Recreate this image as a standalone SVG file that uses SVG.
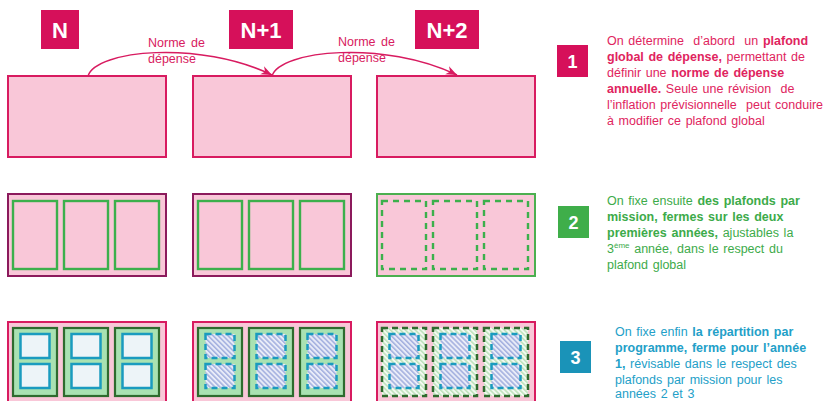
<svg xmlns="http://www.w3.org/2000/svg" width="830" height="401" viewBox="0 0 830 401">
<defs>
<style>
.tag{fill:#d6105a}
.tagt{font-family:"Liberation Sans",Arial,sans-serif;font-weight:bold;font-size:22px;fill:#fff;text-anchor:middle}
.numt{font-family:"Liberation Sans",Arial,sans-serif;font-weight:bold;font-size:18px;fill:#fff;text-anchor:middle}
.r1{fill:#f9c7d8;stroke:#d81b60;stroke-width:2}
.r2o{fill:#f9c7d8;stroke:#8c1a5c;stroke-width:2}
.r2og{fill:#f9c7d8;stroke:#4caf50;stroke-width:2}
.g2{fill:none;stroke:#3cb04c;stroke-width:2.4}
.g2d{fill:none;stroke:#3cb04c;stroke-width:2.4;stroke-dasharray:6 5}
.r3o{fill:#f9c7d8;stroke:#d81b60;stroke-width:2}
.g3{fill:#a9e2b2;stroke:#2e6b2e;stroke-width:2.2}
.g3d{fill:url(#hatchGreen);stroke:#2e6b2e;stroke-width:2.5;stroke-dasharray:6 4}
.b3{fill:#edf4f8;stroke:#1a9bbf;stroke-width:2.5}
.b3d{fill:url(#hatchBlue);stroke:#1a9bbf;stroke-width:2.5;stroke-dasharray:6 4}
.conn{fill:none;stroke:#d81b60;stroke-width:1.5}
.lbl{font-family:"Liberation Sans",Arial,sans-serif;font-size:12.5px;fill:#d81b60;word-spacing:2px}
.p{font-family:"Liberation Sans",Arial,sans-serif;font-size:12.5px;word-spacing:1.2px}
.p1{fill:#e0245e}
.p2{fill:#3dab4a}
.p3{fill:#23a0c8}
.b{font-weight:bold}
</style>
<pattern id="hatchBlue" width="3.5" height="3.5" patternUnits="userSpaceOnUse" patternTransform="rotate(-45)">
<rect width="3.5" height="3.5" fill="#e9ecf8"/>
<line x1="0.8" y1="0" x2="0.8" y2="3.5" stroke="#96a4da" stroke-width="1.3"/>
</pattern>
<pattern id="hatchGreen" width="3.5" height="3.5" patternUnits="userSpaceOnUse" patternTransform="rotate(-45)">
<rect width="3.5" height="3.5" fill="#f3f9f1"/>
<line x1="0.8" y1="0" x2="0.8" y2="3.5" stroke="#b7e0b5" stroke-width="1.4"/>
</pattern>
<marker id="arr" viewBox="0 0 10 10" refX="10" refY="5" markerWidth="11" markerHeight="11" markerUnits="userSpaceOnUse" orient="auto">
<path d="M0,1 L10,5 L0,9 L3,5 z" fill="#d81b60"/>
</marker>
</defs>

<g id="label-N"><rect class="tag" x="41" y="10" width="38" height="39"/><text class="tagt" x="60" y="38">N</text></g>
<g id="label-N1"><rect class="tag" x="229" y="10" width="64" height="39"/><text class="tagt" x="261" y="38">N+1</text></g>
<g id="label-N2"><rect class="tag" x="415" y="10" width="64" height="39"/><text class="tagt" x="447" y="38">N+2</text></g>

<g id="row1-N"><rect class="r1" x="8" y="76" width="158" height="81"/></g>
<g id="row1-N1"><rect class="r1" x="193" y="76" width="158" height="81"/></g>
<g id="row1-N2"><rect class="r1" x="377" y="76" width="158" height="81"/></g>

<g id="connectors">
<path class="conn" d="M88,76 C96,50 200,40 272,75" marker-end="url(#arr)"/>
<path class="conn" d="M272,76 C280,50 385,40 457,75" marker-end="url(#arr)"/>
</g>
<g id="connector-labels">
<text class="lbl" x="148" y="47">Norme de</text>
<text class="lbl" x="148" y="63">dépense</text>
<text class="lbl" x="338" y="46">Norme de</text>
<text class="lbl" x="338" y="62">dépense</text>
</g>

<g id="row2-N">
<rect class="r2o" x="8" y="194" width="158" height="82"/>
<rect class="g2" x="13" y="201" width="44" height="68"/>
<rect class="g2" x="64" y="201" width="44" height="68"/>
<rect class="g2" x="115" y="201" width="44" height="68"/>
</g>
<g id="row2-N1">
<rect class="r2o" x="193" y="194" width="158" height="82"/>
<rect class="g2" x="198" y="201" width="44" height="68"/>
<rect class="g2" x="249" y="201" width="44" height="68"/>
<rect class="g2" x="300" y="201" width="44" height="68"/>
</g>
<g id="row2-N2">
<rect class="r2og" x="377" y="194" width="158" height="82"/>
<rect class="g2d" x="382" y="201" width="44" height="68"/>
<rect class="g2d" x="433" y="201" width="44" height="68"/>
<rect class="g2d" x="484" y="201" width="44" height="68"/>
</g>

<g id="row3-N">
<rect class="r3o" x="8" y="322" width="158" height="90"/>
<rect class="g3" x="13" y="328" width="44" height="68"/>
<rect class="g3" x="64" y="328" width="44" height="68"/>
<rect class="g3" x="115" y="328" width="44" height="68"/>
<rect class="b3" x="20.5" y="334" width="29" height="24"/>
<rect class="b3" x="20.5" y="364" width="29" height="24"/>
<rect class="b3" x="71.5" y="334" width="29" height="24"/>
<rect class="b3" x="71.5" y="364" width="29" height="24"/>
<rect class="b3" x="122.5" y="334" width="29" height="24"/>
<rect class="b3" x="122.5" y="364" width="29" height="24"/>
</g>
<g id="row3-N1">
<rect class="r3o" x="193" y="322" width="158" height="90"/>
<rect class="g3" x="198" y="328" width="44" height="68"/>
<rect class="g3" x="249" y="328" width="44" height="68"/>
<rect class="g3" x="300" y="328" width="44" height="68"/>
<rect class="b3d" x="205.5" y="334" width="29" height="24"/>
<rect class="b3d" x="205.5" y="364" width="29" height="24"/>
<rect class="b3d" x="256.5" y="334" width="29" height="24"/>
<rect class="b3d" x="256.5" y="364" width="29" height="24"/>
<rect class="b3d" x="307.5" y="334" width="29" height="24"/>
<rect class="b3d" x="307.5" y="364" width="29" height="24"/>
</g>
<g id="row3-N2">
<rect class="r3o" x="377" y="322" width="158" height="90"/>
<rect class="g3d" x="382" y="328" width="44" height="68"/>
<rect class="g3d" x="433" y="328" width="44" height="68"/>
<rect class="g3d" x="484" y="328" width="44" height="68"/>
<rect class="b3d" x="389.5" y="334" width="29" height="24"/>
<rect class="b3d" x="389.5" y="364" width="29" height="24"/>
<rect class="b3d" x="440.5" y="334" width="29" height="24"/>
<rect class="b3d" x="440.5" y="364" width="29" height="24"/>
<rect class="b3d" x="491.5" y="334" width="29" height="24"/>
<rect class="b3d" x="491.5" y="364" width="29" height="24"/>
</g>

<g id="step-1">
<rect x="557" y="45" width="31" height="32" fill="#d6105a"/>
<text class="numt" x="572.5" y="67.5">1</text>
<text class="p p1">
<tspan x="607" y="45">On détermine&#160; d’abord&#160; un <tspan class="b">plafond</tspan></tspan>
<tspan x="607" y="61"><tspan class="b">global de dépense,</tspan> permettant de</tspan>
<tspan x="607" y="77">définir une <tspan class="b">norme de dépense</tspan></tspan>
<tspan x="607" y="93"><tspan class="b">annuelle.</tspan> Seule une révision&#160; de</tspan>
<tspan x="607" y="109">l’inflation prévisionnelle&#160; peut conduire</tspan>
<tspan x="607" y="125">à modifier ce plafond global</tspan>
</text>
</g>

<g id="step-2">
<rect x="558" y="206" width="31" height="32" fill="#3fae4a"/>
<text class="numt" x="573.5" y="228.5">2</text>
<text class="p p2">
<tspan x="607" y="205">On fixe ensuite <tspan class="b">des plafonds par</tspan></tspan>
<tspan x="607" y="221" class="b">mission, fermes sur les deux</tspan>
<tspan x="607" y="237"><tspan class="b">premières années,</tspan> ajustables la</tspan>
<tspan x="607" y="253">3<tspan font-size="8" dy="-5">ème</tspan><tspan dy="5"> année, dans le respect du</tspan></tspan>
<tspan x="607" y="269">plafond global</tspan>
</text>
</g>

<g id="step-3">
<rect x="560" y="341" width="31" height="32" fill="#1a93b8"/>
<text class="numt" x="575.5" y="363.5">3</text>
<text class="p p3">
<tspan x="615" y="336">On fixe enfin <tspan class="b">la répartition par</tspan></tspan>
<tspan x="615" y="352" class="b">programme, ferme pour l’année</tspan>
<tspan x="615" y="368"><tspan class="b">1,</tspan> révisable dans le respect des</tspan>
<tspan x="615" y="384">plafonds par mission pour les</tspan>
<tspan x="615" y="398">années 2 et 3</tspan>
</text>
</g>
</svg>
